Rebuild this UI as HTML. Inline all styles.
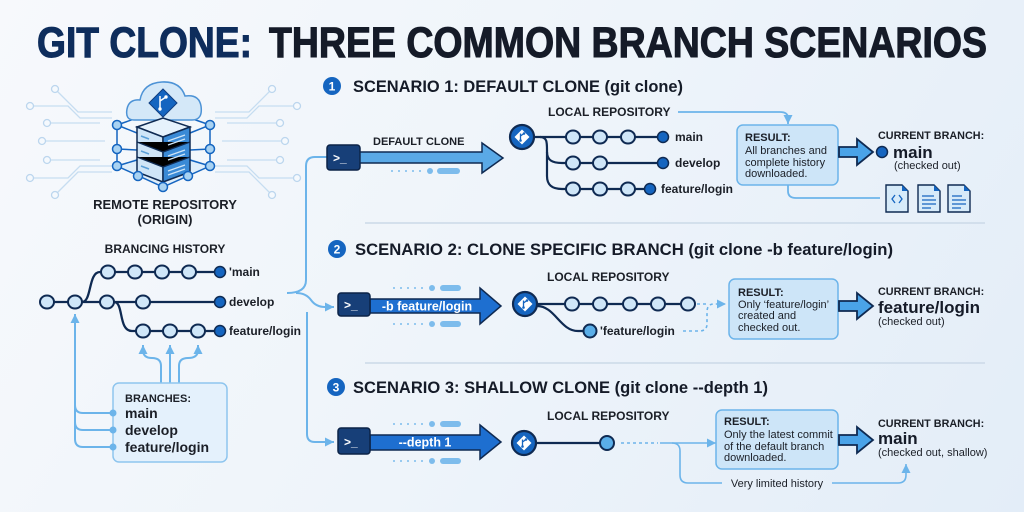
<!DOCTYPE html>
<html><head><meta charset="utf-8">
<style>
html,body{margin:0;padding:0;width:1024px;height:512px;overflow:hidden;}
body{background:linear-gradient(120deg,#f7f9fc 0%,#eef4fa 50%,#e3edf8 100%);}
svg{display:block;font-family:"Liberation Sans",Arial,sans-serif;}
</style></head><body>
<svg width="1024" height="512" viewBox="0 0 1024 512">
<defs>
<marker id="ah" markerUnits="userSpaceOnUse" markerWidth="10" markerHeight="10" refX="9" refY="5" orient="auto"><path d="M0,0.5 L9,5 L0,9.5 Z" fill="#6cb4ea"/></marker>
<g id="git">
<circle r="12" fill="#1565c0" stroke="#0f2a52" stroke-width="2.2"/>
<polygon points="0,-7.5 7.5,0 0,7.5 -7.5,0" fill="#fff"/>
<path d="M-1.5,-3.5 L-1.5,3.5 M-1.5,-1 L2,-3.5" stroke="#1565c0" stroke-width="1.3" fill="none"/>
<circle cx="-1.5" cy="3.5" r="1.3" fill="#1565c0"/><circle cx="2" cy="-3.5" r="1.3" fill="#1565c0"/>
</g>
</defs>

<!-- Title -->
<text x="37" y="57" font-size="43" font-weight="700" fill="#0e2d5c" stroke="#0e2d5c" stroke-width="1.1" textLength="215" lengthAdjust="spacingAndGlyphs">GIT CLONE:</text>
<text x="269" y="57" font-size="43" font-weight="700" fill="#151b28" stroke="#151b28" stroke-width="1.1" textLength="718" lengthAdjust="spacingAndGlyphs">THREE COMMON BRANCH SCENARIOS</text>

<!-- circuit lines -->
<g stroke="#c6ddf1" stroke-width="1.3" fill="none">
<path d="M55,89 L78,112 L112,112"/><path d="M30,106 L68,106 L80,118 L112,118"/><path d="M47,123 L100,123"/><path d="M42,141 L105,141"/><path d="M47,160 L100,160"/><path d="M30,178 L68,178 L80,166 L112,166"/><path d="M55,195 L78,172 L112,172"/>
<path d="M272,89 L249,112 L215,112"/><path d="M297,106 L259,106 L247,118 L215,118"/><path d="M280,123 L227,123"/><path d="M285,141 L222,141"/><path d="M280,160 L227,160"/><path d="M297,178 L259,178 L247,166 L215,166"/><path d="M272,195 L249,172 L215,172"/>
</g>
<g fill="#f5f9fd" stroke="#bcd6ee" stroke-width="1.3">
<circle cx="55" cy="89" r="3.5"/><circle cx="30" cy="106" r="3.5"/><circle cx="47" cy="123" r="3.5"/><circle cx="42" cy="141" r="3.5"/><circle cx="47" cy="160" r="3.5"/><circle cx="30" cy="178" r="3.5"/><circle cx="55" cy="195" r="3.5"/>
<circle cx="272" cy="89" r="3.5"/><circle cx="297" cy="106" r="3.5"/><circle cx="280" cy="123" r="3.5"/><circle cx="285" cy="141" r="3.5"/><circle cx="280" cy="160" r="3.5"/><circle cx="297" cy="178" r="3.5"/><circle cx="272" cy="195" r="3.5"/>
</g>

<!-- server icon -->
<polygon points="117,166 163,148 210,166 163,187" fill="#d6eaf9" opacity="0.7"/>
<g stroke="#1565c0" stroke-width="1.5" fill="none">
<path d="M117,125 L117,166 L163,187 L210,166 L210,125"/>
<path d="M117,125 L137,133 M117,149 L137,150 M117,125 L137,118"/>
<path d="M210,125 L190,133 M210,149 L190,150 M210,125 L190,118"/>
<path d="M117,166 L137,160 M210,166 L190,160 M163,182 L163,187"/>
</g>
<path d="M134,120 Q125,120 127,109 Q129,99 140,100 Q143,83 162,82 Q180,81 185,96 Q199,94 201,106 Q203,120 192,120 Z" fill="#d4e8f8" stroke="#4d93d6" stroke-width="1.5"/>
<polygon points="163,89 177,103 163,117 149,103" fill="#1565c0" stroke="#0f3d80" stroke-width="1"/>
<path d="M160,96 L160,109 M160,101 L166,97" stroke="#fff" stroke-width="1.5" fill="none"/>
<circle cx="160" cy="109" r="1.7" fill="#fff"/><circle cx="166" cy="97" r="1.7" fill="#fff"/>
<polygon points="137,127 163,118 190,127 163,137" fill="#e6f2fc" stroke="#0f2a52" stroke-width="1.5"/>
<polygon points="137,127 163,137 163,182 137,172" fill="#cfe5f7" stroke="#0f2a52" stroke-width="1.5"/>
<polygon points="163,137 190,127 190,172 163,182" fill="#3a8ad6" stroke="#0f2a52" stroke-width="1.5"/>
<g stroke="#0f2a52" stroke-width="1.3"><path d="M137,142 L163,152 L190,142 M137,157 L163,167 L190,157"/></g>
<g stroke="#5a9fd8" stroke-width="1.5"><path d="M141,136 L149,139 M141,151 L149,154 M141,166 L149,169"/></g>
<g stroke="#cfe5f7" stroke-width="1.2"><path d="M168,141 L185,135 M168,145 L185,139 M168,156 L185,150 M168,160 L185,154 M168,171 L185,165 M168,175 L185,169"/></g>
<g fill="#a8d2f2" stroke="#1565c0" stroke-width="1.5">
<circle cx="117" cy="125" r="4.5"/><circle cx="117" cy="149" r="4.5"/><circle cx="117" cy="166" r="4.5"/>
<circle cx="210" cy="125" r="4.5"/><circle cx="210" cy="149" r="4.5"/><circle cx="210" cy="166" r="4.5"/>
<circle cx="138" cy="176" r="4.5"/><circle cx="163" cy="187" r="4.5"/><circle cx="188" cy="176" r="4.5"/>
</g>
<text x="165" y="209" font-size="13" font-weight="700" fill="#1b1f27" text-anchor="middle">REMOTE REPOSITORY</text>
<text x="165" y="224" font-size="13" font-weight="700" fill="#1b1f27" text-anchor="middle">(ORIGIN)</text>

<!-- Branching history -->
<text x="165" y="253" font-size="12" font-weight="700" fill="#1b1f27" text-anchor="middle">BRANCING HISTORY</text>
<g stroke="#0f2a52" stroke-width="2.3" fill="none">
<path d="M47,302 L220,302"/>
<path d="M82,302 C92,302 88,272 100,272 L220,272"/>
<path d="M114,302 C124,302 118,331 132,331 L220,331"/>
</g>
<g fill="#cfe6f8" stroke="#0f2a52" stroke-width="2">
<ellipse cx="47" cy="302" rx="7" ry="6.5"/><ellipse cx="75" cy="302" rx="7" ry="6.5"/><ellipse cx="107" cy="302" rx="7" ry="6.5"/><ellipse cx="143" cy="302" rx="7" ry="6.5"/>
<ellipse cx="108" cy="272" rx="7" ry="6.5"/><ellipse cx="135" cy="272" rx="7" ry="6.5"/><ellipse cx="162" cy="272" rx="7" ry="6.5"/><ellipse cx="189" cy="272" rx="7" ry="6.5"/>
<ellipse cx="143" cy="331" rx="7" ry="6.5"/><ellipse cx="170" cy="331" rx="7" ry="6.5"/><ellipse cx="198" cy="331" rx="7" ry="6.5"/>
</g>
<g fill="#1565c0" stroke="#0f2a52" stroke-width="1.5">
<circle cx="220" cy="272" r="5.5"/><circle cx="220" cy="302" r="5.5"/><circle cx="220" cy="331" r="5.5"/>
</g>
<g font-size="12" font-weight="700" fill="#1b1f27">
<text x="229" y="276">'main</text><text x="229" y="306">develop</text><text x="229" y="335">feature/login</text>
</g>
<g stroke="#6cb4ea" stroke-width="2" fill="none">
<path d="M161,383 L161,366 Q161,358 152,358 Q143,358 143,350 L143,345" marker-end="url(#ah)"/>
<path d="M170,383 L170,345" marker-end="url(#ah)"/>
<path d="M179,383 L179,366 Q179,358 188,358 Q198,358 198,350 L198,345" marker-end="url(#ah)"/>
<path d="M113,413 L83,413 Q75,413 75,405"/>
<path d="M113,430 L83,430 Q75,430 75,422"/>
<path d="M113,447 L83,447 Q75,447 75,439 L75,314" marker-end="url(#ah)"/>
</g>
<rect x="113" y="383" width="114" height="79" rx="6" fill="#e4f1fc" stroke="#8ec5ee" stroke-width="1.5"/>
<g fill="#6cb4ea"><circle cx="113" cy="413" r="3.5"/><circle cx="113" cy="430" r="3.5"/><circle cx="113" cy="447" r="3.5"/></g>
<text x="125" y="402" font-size="11" font-weight="700" fill="#1b1f27">BRANCHES:</text>
<g font-size="14" font-weight="700" fill="#1b1f27">
<text x="125" y="418">main</text><text x="125" y="435">develop</text><text x="125" y="452">feature/login</text>
</g>

<!-- brace / connectors -->
<g stroke="#6cb4ea" stroke-width="2" fill="none">
<path d="M287,293 Q306,293 306,280 L306,166 Q306,157 315,157 L327,157"/>
<path d="M296,293 Q306,293 311,300 Q316,307 325,307 L334,307" marker-end="url(#ah)"/>
<path d="M307,312 L307,434 Q307,442 315,442 L334,442" marker-end="url(#ah)"/>
</g>

<!-- separators -->
<g stroke="#cbd9e8" stroke-width="1.5"><path d="M365,223 L985,223 M365,363 L985,363"/></g>

<!-- Scenario 1 -->
<circle cx="332" cy="86" r="9" fill="#1565c0"/>
<text x="332" y="90.5" font-size="12" font-weight="700" fill="#fff" text-anchor="middle">1</text>
<text x="353" y="92" font-size="16.5" font-weight="700" fill="#151b28" textLength="330" lengthAdjust="spacingAndGlyphs">SCENARIO 1: DEFAULT CLONE (git clone)</text>
<text x="548" y="116" font-size="12" font-weight="700" fill="#1b1f27">LOCAL REPOSITORY</text>
<path d="M678,112 L780,112 Q788,112 788,118 L788,124" stroke="#6cb4ea" stroke-width="1.8" fill="none" marker-end="url(#ah)"/>
<rect x="327" y="145" width="33" height="25" rx="3" fill="#173f78" stroke="#0c2347" stroke-width="1.5"/>
<text x="333" y="162" font-size="12" font-weight="700" fill="#fff">&gt;_</text>
<polygon points="360,152 482,152 482,143 503,158 482,173 482,163 360,163" fill="#5aa9e6" stroke="#0f2a52" stroke-width="1.5"/>
<text x="373" y="145" font-size="11" font-weight="700" fill="#1b1f27">DEFAULT CLONE</text>
<g fill="#7dbcec"><circle cx="392" cy="171" r="1"/><circle cx="399" cy="171" r="1"/><circle cx="406" cy="171" r="1"/><circle cx="413" cy="171" r="1"/><circle cx="420" cy="171" r="1"/><circle cx="430" cy="171" r="3"/><rect x="437" y="168" width="23" height="6" rx="3"/></g>
<g stroke="#0f2a52" stroke-width="2.2" fill="none">
<path d="M522,137 L663,137"/>
<path d="M540,137 C547,137 547,142 547,150 L547,176 C547,185 552,189 562,189 L650,189"/>
<path d="M547,152 C547,160 552,163 562,163 L663,163"/>
</g>
<use href="#git" x="522" y="137"/>
<g fill="#cfe6f8" stroke="#0f2a52" stroke-width="2">
<ellipse cx="573" cy="137" rx="7" ry="6.5"/><ellipse cx="600" cy="137" rx="7" ry="6.5"/><ellipse cx="628" cy="137" rx="7" ry="6.5"/>
<ellipse cx="573" cy="163" rx="7" ry="6.5"/><ellipse cx="600" cy="163" rx="7" ry="6.5"/>
<ellipse cx="573" cy="189" rx="7" ry="6.5"/><ellipse cx="600" cy="189" rx="7" ry="6.5"/><ellipse cx="628" cy="189" rx="7" ry="6.5"/>
</g>
<g fill="#1565c0" stroke="#0f2a52" stroke-width="1.5"><circle cx="663" cy="137" r="5.5"/><circle cx="663" cy="163" r="5.5"/><circle cx="650" cy="189" r="5.5"/></g>
<g font-size="12" font-weight="700" fill="#1b1f27"><text x="675" y="141">main</text><text x="675" y="167">develop</text><text x="661" y="193">feature/login</text></g>

<rect x="737" y="125" width="101" height="60" rx="6" fill="#cde5f8" stroke="#6cb4ea" stroke-width="1.5"/>
<text x="745" y="141" font-size="11" font-weight="700" fill="#1b1f27">RESULT:</text>
<g font-size="11" fill="#1b1f27"><text x="745" y="154">All branches and</text><text x="745" y="166">complete history</text><text x="745" y="177">downloaded.</text></g>
<path d="M788,185 L788,191 Q788,198 796,198 L880,198" stroke="#6cb4ea" stroke-width="1.8" fill="none"/>
<polygon points="839,147 857,147 857,139 873,152 857,165 857,157 839,157" fill="#4aa3e8" stroke="#0f2a52" stroke-width="1.8"/>
<text x="878" y="139" font-size="10.8" font-weight="700" fill="#1b1f27">CURRENT BRANCH:</text>
<circle cx="882" cy="152" r="5.5" fill="#1565c0" stroke="#0f2a52" stroke-width="1.5"/>
<text x="893" y="158" font-size="17" font-weight="700" fill="#151b28">main</text>
<text x="894" y="169" font-size="11" fill="#1b1f27">(checked out)</text>
<g stroke="#0f2a52" stroke-width="1.4">
<path d="M886,185 L902,185 L908,191 L908,212 L886,212 Z" fill="#d6eaf9"/>
<path d="M918,185 L934,185 L940,191 L940,212 L918,212 Z" fill="#d6eaf9"/>
<path d="M948,185 L964,185 L970,191 L970,212 L948,212 Z" fill="#d6eaf9"/>
</g>
<g fill="#1565c0"><path d="M902,185 L908,191 L902,191 Z"/><path d="M934,185 L940,191 L934,191 Z"/><path d="M964,185 L970,191 L964,191 Z"/></g>
<g stroke="#1565c0" stroke-width="1.3" fill="none">
<path d="M895,195 L892,199 L895,203 M899,195 L902,199 L899,203"/>
<path d="M922,196 L934,196 M922,200 L936,200 M922,204 L936,204 M922,208 L931,208"/>
<path d="M952,196 L962,196 M952,200 L966,200 M952,204 L966,204 M952,208 L961,208"/>
</g>

<!-- Scenario 2 -->
<circle cx="337" cy="249" r="9" fill="#1565c0"/>
<text x="337" y="253.5" font-size="12" font-weight="700" fill="#fff" text-anchor="middle">2</text>
<text x="355" y="255" font-size="16.5" font-weight="700" fill="#151b28" textLength="538" lengthAdjust="spacingAndGlyphs">SCENARIO 2: CLONE SPECIFIC BRANCH (git clone -b feature/login)</text>
<text x="547" y="281" font-size="12" font-weight="700" fill="#1b1f27">LOCAL REPOSITORY</text>
<g fill="#7dbcec"><circle cx="394" cy="288" r="1"/><circle cx="401" cy="288" r="1"/><circle cx="408" cy="288" r="1"/><circle cx="415" cy="288" r="1"/><circle cx="422" cy="288" r="1"/><circle cx="432" cy="288" r="3"/><rect x="440" y="285" width="21" height="6" rx="3"/>
<circle cx="394" cy="324" r="1"/><circle cx="401" cy="324" r="1"/><circle cx="408" cy="324" r="1"/><circle cx="415" cy="324" r="1"/><circle cx="422" cy="324" r="1"/><circle cx="432" cy="324" r="3"/><rect x="440" y="321" width="21" height="6" rx="3"/></g>
<polygon points="370,299 480,299 480,288 501,306 480,324 480,313 370,313" fill="#1e6fd0" stroke="#0f2a52" stroke-width="1.5"/>
<rect x="338" y="293" width="32" height="23" rx="3" fill="#173f78" stroke="#0c2347" stroke-width="1.5"/>
<text x="344" y="309" font-size="12" font-weight="700" fill="#fff">&gt;_</text>
<text x="427" y="310.5" font-size="12.5" font-weight="700" fill="#fff" text-anchor="middle">-b feature/login</text>
<g stroke="#0f2a52" stroke-width="2.2" fill="none">
<path d="M525,304 L688,304"/>
<path d="M537,306 C555,306 560,331 578,331 L590,331"/>
</g>
<use href="#git" x="525" y="304"/>
<g fill="#cfe6f8" stroke="#0f2a52" stroke-width="2">
<ellipse cx="572" cy="304" rx="7" ry="6.5"/><ellipse cx="600" cy="304" rx="7" ry="6.5"/><ellipse cx="630" cy="304" rx="7" ry="6.5"/><ellipse cx="658" cy="304" rx="7" ry="6.5"/><ellipse cx="688" cy="304" rx="7" ry="6.5"/>
</g>
<circle cx="590" cy="331" r="6.5" fill="#5aaee8" stroke="#0f2a52" stroke-width="2"/>
<text x="600" y="335" font-size="12" font-weight="700" fill="#1b1f27">'feature/login</text>
<g stroke="#6cb4ea" stroke-width="1.6" fill="none" stroke-dasharray="3,3">
<path d="M697,304 L707,304"/>
<path d="M683,331 L699,331 Q707,331 707,324 L707,312 Q707,304 714,304 L726,304" marker-end="url(#ah)"/>
</g>
<rect x="729" y="279" width="109" height="60" rx="6" fill="#cde5f8" stroke="#6cb4ea" stroke-width="1.5"/>
<text x="738" y="296" font-size="11" font-weight="700" fill="#1b1f27">RESULT:</text>
<g font-size="11" fill="#1b1f27"><text x="738" y="308">Only ‘feature/login’</text><text x="738" y="319">created and</text><text x="738" y="331">checked out.</text></g>
<polygon points="839,301 857,301 857,293 873,306 857,319 857,311 839,311" fill="#4aa3e8" stroke="#0f2a52" stroke-width="1.8"/>
<text x="878" y="295" font-size="10.8" font-weight="700" fill="#1b1f27">CURRENT BRANCH:</text>
<text x="878" y="313" font-size="17" font-weight="700" fill="#151b28">feature/login</text>
<text x="878" y="325" font-size="11" fill="#1b1f27">(checked out)</text>

<!-- Scenario 3 -->
<circle cx="336" cy="387" r="9" fill="#1565c0"/>
<text x="336" y="391.5" font-size="12" font-weight="700" fill="#fff" text-anchor="middle">3</text>
<text x="353" y="393" font-size="16.5" font-weight="700" fill="#151b28" textLength="415" lengthAdjust="spacingAndGlyphs">SCENARIO 3: SHALLOW CLONE (git clone --depth 1)</text>
<text x="547" y="420" font-size="12" font-weight="700" fill="#1b1f27">LOCAL REPOSITORY</text>
<g fill="#7dbcec"><circle cx="394" cy="424" r="1"/><circle cx="401" cy="424" r="1"/><circle cx="408" cy="424" r="1"/><circle cx="415" cy="424" r="1"/><circle cx="422" cy="424" r="1"/><circle cx="432" cy="424" r="3"/><rect x="440" y="421" width="21" height="6" rx="3"/>
<circle cx="394" cy="461" r="1"/><circle cx="401" cy="461" r="1"/><circle cx="408" cy="461" r="1"/><circle cx="415" cy="461" r="1"/><circle cx="422" cy="461" r="1"/><circle cx="432" cy="461" r="3"/><rect x="440" y="458" width="21" height="6" rx="3"/></g>
<polygon points="370,435 480,435 480,425 501,442 480,459 480,450 370,450" fill="#1e6fd0" stroke="#0f2a52" stroke-width="1.5"/>
<rect x="338" y="428" width="32" height="26" rx="3" fill="#173f78" stroke="#0c2347" stroke-width="1.5"/>
<text x="344" y="446" font-size="12" font-weight="700" fill="#fff">&gt;_</text>
<text x="425" y="446.5" font-size="12.5" font-weight="700" fill="#fff" text-anchor="middle">--depth 1</text>
<path d="M524,443 L607,443" stroke="#0f2a52" stroke-width="2.2"/>
<use href="#git" x="524" y="443"/>
<circle cx="607" cy="443" r="7" fill="#5aaee8" stroke="#0f2a52" stroke-width="2"/>
<path d="M621,443 L658,443" stroke="#6cb4ea" stroke-width="1.6" stroke-dasharray="3,3"/>
<g stroke="#6cb4ea" stroke-width="1.6" fill="none">
<path d="M660,443 L716,443" marker-end="url(#ah)"/>
<path d="M672,443 Q680,443 680,451 L680,475 Q680,483 688,483 L722,483"/>
<path d="M832,483 L898,483 Q906,483 906,475 L906,464" marker-end="url(#ah)"/>
</g>
<text x="777" y="487" font-size="11" fill="#1b1f27" text-anchor="middle">Very limited history</text>
<rect x="716" y="410" width="122" height="59" rx="6" fill="#cde5f8" stroke="#6cb4ea" stroke-width="1.5"/>
<text x="724" y="425" font-size="11" font-weight="700" fill="#1b1f27">RESULT:</text>
<g font-size="11" fill="#1b1f27"><text x="724" y="438">Only the latest commit</text><text x="724" y="450">of the default branch</text><text x="724" y="461">downloaded.</text></g>
<polygon points="839,435 857,435 857,427 873,440 857,453 857,445 839,445" fill="#4aa3e8" stroke="#0f2a52" stroke-width="1.8"/>
<text x="878" y="427" font-size="10.8" font-weight="700" fill="#1b1f27">CURRENT BRANCH:</text>
<text x="878" y="444" font-size="17" font-weight="700" fill="#151b28">main</text>
<text x="878" y="456" font-size="11" fill="#1b1f27">(checked out, shallow)</text>
</svg>
</body></html>
